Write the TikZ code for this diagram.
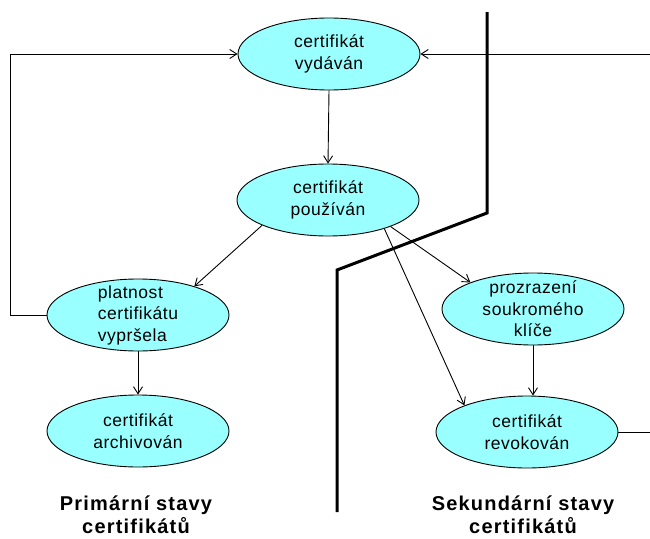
\documentclass[tikz,border=0pt]{standalone}
\usepackage{fontspec}
\setmainfont{Liberation Sans}
\usetikzlibrary{arrows.meta,shapes.geometric}
\definecolor{cellfill}{HTML}{99FFFF}
\begin{document}
\begin{tikzpicture}[x=1pt,y=-1pt,
  st/.style={ellipse,draw=black,line width=0.9pt,fill=cellfill,minimum width=182pt,minimum height=72pt,inner sep=0pt},
  txt/.style={font=\fontsize{17.5}{21.5}\selectfont\addfontfeatures{LetterSpace=3},align=center,inner sep=0pt},
  txtl/.style={font=\fontsize{17.5}{21.5}\selectfont\addfontfeatures{LetterSpace=3},align=left,inner sep=0pt},
  conn/.style={line width=0.9pt,-{Straight Barb[length=7pt,width=9pt]}},
  plain/.style={line width=0.9pt},
  wall/.style={line width=3pt},
  title/.style={font=\fontsize{20}{23}\bfseries\selectfont\addfontfeatures{LetterSpace=6},align=center,inner sep=0pt}]
\useasboundingbox (0,0) rectangle (650,538);

% thick separating wall
\coordinate (w1) at (487,12);
\coordinate (w2) at (487,213);
\coordinate (w3) at (337,270);
\coordinate (w4) at (337,512);
\draw[wall] (w1) -- (w2) -- (w3) -- (w4);

% states
\node[st, label={[txt]center:{certifikát\\vydáván}}] (v) at (329,54) {};
\node[st, label={[txt]center:{certifikát\\používán}}] (p) at (328,200) {};
\node[st, label={[txtl]center:{platnost\\certifikátu\\vypršela}}] (x) at (138,315) {};
\node[st, label={[txt]center:{certifikát\\archivován}}] (a) at (138,431) {};
\node[st, label={[txt]center:{prozrazení\\soukromého\\klíče}}] (k) at (533,309) {};
\node[st, label={[txt]center:{certifikát\\revokován}}] (r) at (527,432) {};

% free ends
\coordinate (lt) at (10,54);
\coordinate (re) at (650,54);
\coordinate (re2) at (650,432);

% connectors
\draw[conn] (x.west) -| (lt) -- (v.west);
\draw[conn] (re) -- (v.east);
\draw[conn] (v.south) -- (p.north);
\draw[conn] (p.201) -- (x.27);
\draw[conn] (p.337) -- (k.157);
\draw[conn] (p.333) -- (r.157);
\draw[conn] (x.south) -- (a.north);
\draw[conn] (k.south) -- (k.south |- r.north);
\draw[plain] (r.east) -- (re2);

% titles
\node[title] (t1) at (136,515) {Primární stavy\\certifikátů};
\node[title] (t2) at (523,515) {Sekundární stavy\\certifikátů};
\end{tikzpicture}
\end{document}
